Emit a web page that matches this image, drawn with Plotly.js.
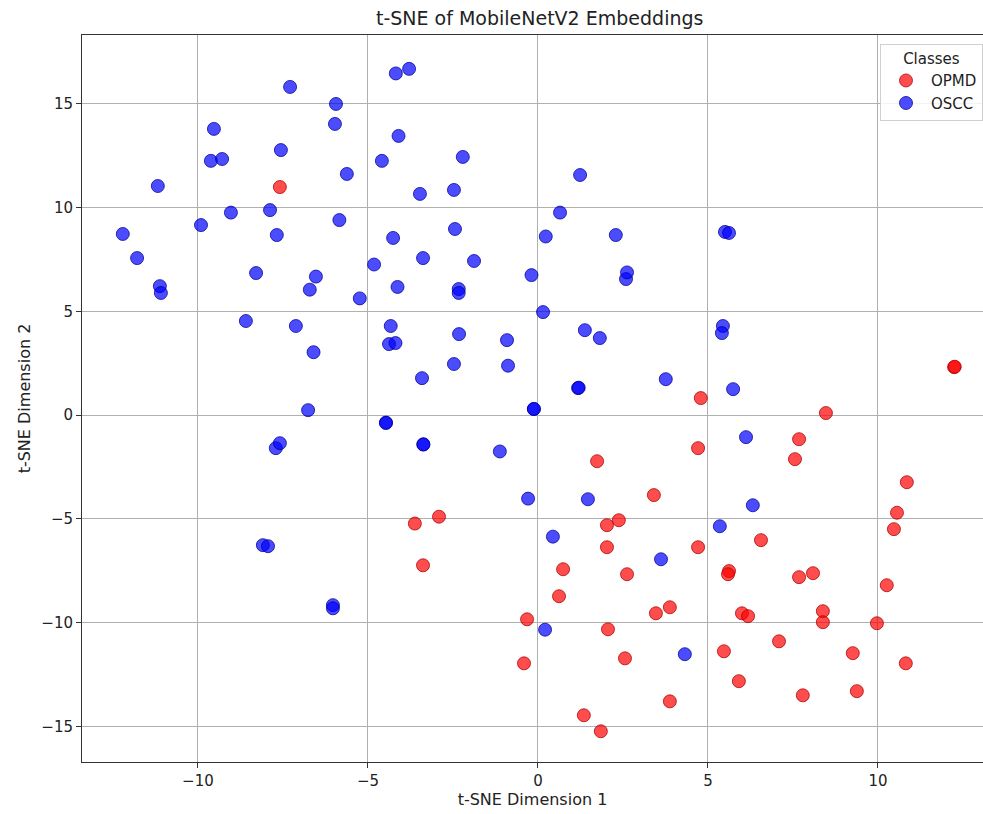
<!DOCTYPE html>
<html>
<head>
<meta charset="utf-8">
<script src="https://cdn.plot.ly/plotly-3.0.1.min.js"></script>
<style>html,body{margin:0;padding:0;background:#fff;}#chart{width:983px;height:814px;}</style>
</head>
<body>
<div id="chart"></div>
<script>
const opmdX = [-7.59, 4.79, 4.71, 1.74, 3.41, -3.62, -2.91, -3.38, -0.32, -0.41, 2.38, 2.03, 2.03, 4.71, 6.56, 0.74, 2.62, 5.62, 5.59, 0.62, 3.47, 3.88, 6.00, 6.18, 2.06, 7.09, 5.47, 2.56, 5.91, 3.88, 1.35, 1.85, 10.56, 10.47, 8.09, 7.68, 10.26, 8.38, 8.38, 9.97, 9.26, 10.82, 9.38, 7.79, 12.24, 12.26, 8.47, 7.68, 7.56, 10.85];
const opmdY = [10.98, 0.82, -1.59, -2.22, -3.85, -5.22, -4.89, -7.23, -9.83, -11.95, -5.06, -5.30, -6.36, -6.36, -6.02, -7.42, -7.66, -7.51, -7.66, -8.72, -9.54, -9.25, -9.54, -9.68, -10.31, -10.89, -11.37, -11.71, -12.81, -13.78, -14.45, -15.22, -4.70, -5.49, -7.61, -7.80, -8.19, -9.44, -9.97, -10.02, -11.46, -11.95, -13.29, -13.49, 2.31, 2.33, 0.10, -1.16, -2.12, -3.23];

const osccX = [-12.21, -11.79, -11.18, -11.12, -11.09, -9.91, -9.53, -9.62, -9.29, -9.03, -8.59, -8.29, -8.09, -7.94, -7.88, -7.68, -7.56, -7.29, -7.12, -7.71, -7.59, -6.71, -6.53, -6.60, -6.76, -6.03, -6.03, -5.94, -5.97, -5.84, -5.62, -5.24, -4.82, -4.59, -4.47, -4.47, -4.33, -4.38, -4.26, -4.19, -4.18, -4.10, -4.13, -3.79, -3.47, -3.38, -3.41, -3.37, -3.37, -2.47, -2.44, -2.47, -2.33, -2.33, -2.32, -2.21, -1.88, -1.12, -0.91, -0.88, -0.29, -0.19, -0.12, -0.12, 0.15, 0.23, 0.44, 0.21, 0.65, 1.24, 1.38, 1.82, 1.18, 1.20, 3.76, 2.59, 2.62, 2.29, 5.44, 5.41, 5.74, 6.12, 6.32, 1.47, 5.50, 5.62, 3.62, 5.35, 4.32];
const osccY = [8.72, 7.56, 11.03, 6.21, 5.88, 9.15, 13.78, 12.24, 12.33, 9.75, 4.53, 6.84, -6.26, -6.31, 9.87, 8.67, 12.76, 15.80, 4.29, -1.59, -1.35, 6.04, 6.67, 3.03, 0.24, -9.15, -9.30, 14.98, 14.02, 9.39, 11.61, 5.62, 7.25, 12.24, -0.36, -0.38, 4.29, 3.42, 8.53, 3.47, 16.45, 13.44, 6.17, 16.67, 10.65, 7.56, 1.78, -1.40, -1.42, 10.84, 8.96, 2.46, 6.07, 5.88, 3.90, 12.43, 7.42, -1.75, 3.61, 2.38, -4.02, 6.74, 0.29, 0.30, 4.96, 8.60, -5.85, -10.33, 9.75, 11.56, 4.09, 3.71, 1.30, 1.32, 1.73, 6.55, 6.87, 8.67, 4.29, 3.95, 1.25, -1.06, -4.34, -4.05, 8.82, 8.77, -6.94, -5.35, -11.51];

const classNames = ['OPMD', 'OSCC'];
const xTicks = [-10, -5, 0, 5, 10];
const yTicks = [-15, -10, -5, 0, 5, 10, 15];

const font = "DejaVu Sans, sans-serif";

const traces = [
  {
    x: opmdX, y: opmdY, name: classNames[0], type: 'scatter', mode: 'markers',
    marker: {size: 13, color: 'rgba(255,0,0,0.7)', line: {color: 'rgba(170,0,0,0.75)', width: 1}}
  },
  {
    x: osccX, y: osccY, name: classNames[1], type: 'scatter', mode: 'markers',
    marker: {size: 13, color: 'rgba(0,0,255,0.7)', line: {color: 'rgba(0,0,150,0.75)', width: 1}}
  }
];

const layout = {
  width: 983, height: 814,
  margin: {l: 82, r: 0, t: 35, b: 52},
  paper_bgcolor: '#fff', plot_bgcolor: '#fff',
  font: {family: font, size: 15, color: '#222'},
  title: {text: 't-SNE of MobileNetV2 Embeddings', font: {family: font, size: 19, color: '#222'},
          x: 0.508, xref: 'paper', xanchor: 'center', y: 0.978, yanchor: 'middle'},
  xaxis: {
    range: [-13.41, 13.09], tickvals: xTicks, ticks: 'outside', ticklen: 5, tickcolor: '#333',
    showgrid: true, gridcolor: '#b0b0b0', gridwidth: 1, zeroline: false,
    showline: true, linecolor: '#333', linewidth: 1, mirror: true,
    title: {text: 't-SNE Dimension 1', font: {family: font, size: 16, color: '#222'}, standoff: 4},
    tickfont: {family: font, size: 15, color: '#222'}
  },
  yaxis: {
    range: [-16.7, 18.3], tickvals: yTicks, ticks: 'outside', ticklen: 5, tickcolor: '#333',
    showgrid: true, gridcolor: '#b0b0b0', gridwidth: 1, zeroline: false,
    showline: true, linecolor: '#333', linewidth: 1, mirror: false,
    title: {text: 't-SNE Dimension 2', font: {family: font, size: 16, color: '#222'}, standoff: 6},
    tickfont: {family: font, size: 15, color: '#222'}
  },
  legend: {
    title: {text: 'Classes', side: 'top center', font: {family: font, size: 15, color: '#222'}},
    x: 0.886, xanchor: 'left', y: 0.988, yanchor: 'top',
    bgcolor: 'rgba(255,255,255,0.85)', bordercolor: '#d0d0d0', borderwidth: 1,
    font: {family: font, size: 15, color: '#222'}, itemwidth: 40, tracegroupgap: 0
  },
  showlegend: true
};

Plotly.newPlot('chart', traces, layout, {displayModeBar: false, staticPlot: true});
</script>
</body>
</html>
